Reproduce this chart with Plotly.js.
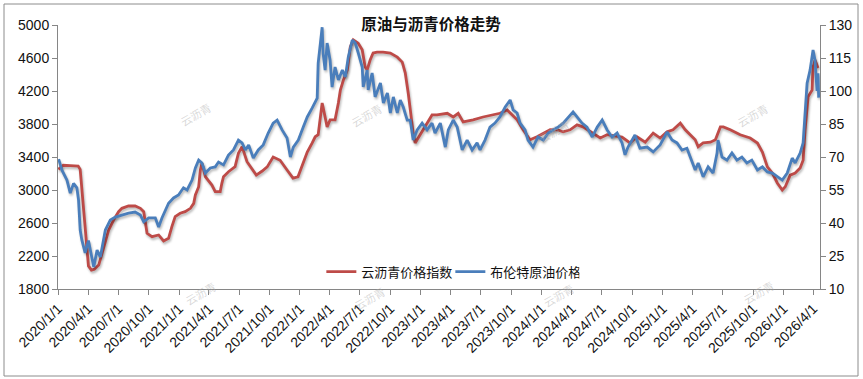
<!DOCTYPE html>
<html>
<head>
<meta charset="utf-8">
<script src="https://cdn.plot.ly/plotly-3.0.1.min.js"></script>
<style>
  html, body { margin: 0; padding: 0; background: #fff; }
  #chart { width: 863px; height: 379px; }
  #chart .scatterlayer path.js-line { filter: drop-shadow(1.5px 2px 1.2px rgba(0,0,0,0.28)); }
</style>
</head>
<body>
<div id="chart"></div>
<script>
// ---- Data ----
const asphaltDates = ["2020-01-02","2020-01-17","2020-02-07","2020-03-02","2020-03-08","2020-03-20","2020-04-02","2020-04-11","2020-04-20","2020-05-03","2020-05-23","2020-06-02","2020-06-17","2020-07-02","2020-07-12","2020-08-01","2020-08-21","2020-09-06","2020-09-16","2020-09-21","2020-09-26","2020-10-11","2020-10-31","2020-11-15","2020-11-30","2020-12-10","2020-12-20","2021-01-04","2021-01-19","2021-02-04","2021-02-14","2021-02-19","2021-03-01","2021-03-06","2021-03-11","2021-03-21","2021-04-10","2021-04-20","2021-05-05","2021-05-10","2021-05-15","2021-05-30","2021-06-19","2021-06-29","2021-07-10","2021-07-25","2021-08-09","2021-08-22","2021-09-09","2021-09-24","2021-10-12","2021-11-02","2021-11-23","2021-12-11","2021-12-26","2022-01-08","2022-01-23","2022-02-07","2022-02-16","2022-02-25","2022-03-09","2022-03-12","2022-03-24","2022-04-02","2022-04-17","2022-04-27","2022-05-03","2022-05-12","2022-05-24","2022-06-02","2022-06-11","2022-06-26","2022-07-08","2022-07-17","2022-07-23","2022-08-01","2022-08-10","2022-08-22","2022-09-09","2022-10-01","2022-10-22","2022-11-06","2022-11-15","2022-11-24","2022-11-30","2022-12-09","2022-12-15","2022-12-30","2023-01-20","2023-02-04","2023-02-19","2023-03-22","2023-04-09","2023-04-24","2023-05-09","2023-06-08","2023-07-08","2023-08-07","2023-08-28","2023-09-19","2023-10-19","2023-11-06","2023-11-27","2023-12-18","2024-01-06","2024-01-27","2024-02-17","2024-03-06","2024-03-27","2024-04-17","2024-05-05","2024-06-05","2024-06-26","2024-07-17","2024-08-16","2024-08-31","2024-09-24","2024-10-15","2024-11-09","2024-12-03","2024-12-24","2025-01-14","2025-02-01","2025-02-23","2025-03-10","2025-03-25","2025-04-09","2025-04-18","2025-05-03","2025-05-25","2025-06-09","2025-06-24","2025-07-03","2025-07-24","2025-08-23","2025-09-22","2025-10-14","2025-10-29","2025-11-13","2025-11-28","2025-12-13","2025-12-28","2026-01-06","2026-01-21","2026-02-05","2026-02-20","2026-03-01","2026-03-07","2026-03-13","2026-03-16","2026-03-28","2026-03-31","2026-04-06","2026-04-15"];
const asphaltIndex = [3250,3300,3295,3290,3250,2700,2080,2030,2040,2090,2358,2515,2636,2737,2778,2806,2806,2778,2737,2616,2475,2434,2455,2382,2415,2556,2677,2718,2737,2778,2838,2940,3040,3243,3324,3162,3060,2980,2980,3081,3162,3222,3283,3445,3526,3343,3250,3180,3230,3280,3400,3360,3243,3145,3160,3300,3460,3570,3645,3670,4055,4000,3765,3850,3850,4055,4210,4330,4455,4735,4820,4780,4700,4490,4455,4575,4660,4670,4670,4660,4610,4550,4420,4175,3970,3690,3570,3670,3810,3910,3910,3930,3885,3930,3825,3850,3885,3910,3930,3970,3850,3730,3610,3645,3690,3730,3730,3705,3730,3790,3765,3690,3630,3670,3645,3640,3570,3645,3580,3690,3630,3705,3730,3810,3730,3670,3610,3525,3570,3580,3610,3765,3765,3730,3670,3630,3570,3460,3280,3205,3085,3000,3040,3180,3205,3267,3360,3730,4000,4130,4210,4490,4575,4480];

const brentDates = ["2020-01-03","2020-01-13","2020-01-28","2020-02-07","2020-02-17","2020-02-27","2020-03-03","2020-03-08","2020-03-13","2020-03-23","2020-04-02","2020-04-13","2020-04-18","2020-04-28","2020-05-08","2020-05-23","2020-06-07","2020-06-22","2020-07-12","2020-08-01","2020-08-21","2020-09-06","2020-09-16","2020-10-01","2020-10-21","2020-10-31","2020-11-10","2020-11-20","2020-11-30","2020-12-15","2020-12-30","2021-01-14","2021-01-25","2021-02-09","2021-02-19","2021-03-01","2021-03-11","2021-03-21","2021-04-05","2021-04-20","2021-04-30","2021-05-15","2021-05-30","2021-06-14","2021-06-29","2021-07-10","2021-07-20","2021-07-30","2021-08-13","2021-08-28","2021-09-12","2021-09-27","2021-10-12","2021-10-24","2021-11-08","2021-11-23","2021-12-03","2021-12-12","2021-12-27","2022-01-11","2022-01-23","2022-02-07","2022-02-22","2022-02-25","2022-03-09","2022-03-12","2022-03-18","2022-03-24","2022-04-02","2022-04-08","2022-04-17","2022-04-27","2022-05-09","2022-05-18","2022-05-27","2022-06-08","2022-06-17","2022-06-26","2022-07-08","2022-07-11","2022-07-23","2022-07-26","2022-08-07","2022-08-16","2022-09-01","2022-09-10","2022-09-22","2022-10-01","2022-10-10","2022-10-22","2022-10-31","2022-11-09","2022-11-21","2022-11-30","2022-12-09","2022-12-21","2023-01-05","2023-01-20","2023-02-04","2023-02-13","2023-03-01","2023-03-16","2023-03-25","2023-04-09","2023-04-21","2023-05-06","2023-05-21","2023-06-05","2023-06-20","2023-06-29","2023-07-14","2023-07-29","2023-08-13","2023-08-28","2023-09-13","2023-09-28","2023-10-07","2023-10-19","2023-10-28","2023-11-12","2023-11-21","2023-12-06","2023-12-21","2024-01-06","2024-01-21","2024-02-05","2024-02-20","2024-03-06","2024-03-21","2024-04-05","2024-04-17","2024-05-02","2024-05-17","2024-06-02","2024-06-17","2024-07-02","2024-07-17","2024-08-01","2024-08-16","2024-08-31","2024-09-09","2024-09-18","2024-10-09","2024-10-24","2024-11-15","2024-12-03","2024-12-24","2025-01-14","2025-01-29","2025-02-13","2025-02-28","2025-03-15","2025-03-25","2025-04-09","2025-04-18","2025-05-03","2025-05-18","2025-06-02","2025-06-14","2025-06-17","2025-06-29","2025-07-14","2025-07-29","2025-08-13","2025-08-28","2025-09-12","2025-09-27","2025-10-14","2025-10-29","2025-11-13","2025-11-28","2025-12-13","2025-12-28","2026-01-12","2026-01-27","2026-02-05","2026-02-20","2026-03-01","2026-03-07","2026-03-13","2026-03-22","2026-03-28","2026-03-31","2026-04-06","2026-04-12","2026-04-15","2026-04-17"];
const brentPrice = [69,64,59.5,53.6,58,56,50.5,36.8,32.3,26.4,32,23.2,20,27.7,24.5,36.8,41.4,42.7,43.6,44.5,45,43.6,40.5,42.3,42.3,38.2,42.3,45.9,49,51.4,52.7,56,55,59.5,65,68.6,67.3,62.7,65,65.5,67.7,66.4,70.9,73.2,77.7,76.4,73.2,75.5,69.5,73.2,75.5,80.9,85.4,86.8,82.3,78.6,70,74.5,77.7,83.6,88.2,92.3,96.8,112.7,129,117,109.5,121.8,114,101.8,110.9,105,109.5,106.4,115.5,123.2,121.8,117.3,110.9,101.8,109.5,100.5,108.2,97.3,103.6,94.5,99.1,90,97.3,90,95.9,92.7,86.8,86.8,77.7,82.3,85.4,82.3,85.4,80.9,85.4,74.5,82.3,86.8,83.6,73.2,77.7,73.2,76.4,73.2,77.7,83.6,85.4,88.2,92.7,95.9,91.4,90,85.4,82.3,77.7,74.5,79.1,77.7,80.9,82.3,83.6,85.4,88.2,90.5,88.2,85.4,83.6,79.1,83.6,86.8,82.3,79.1,80.9,76.4,71,74.5,80,74,74.5,72.3,75.5,81.4,77.7,76.4,73.2,74,70,64.1,67.3,61,65.5,62.7,71.8,77.7,70,68.6,71.8,68.6,70,67.3,68.6,64.1,65.5,63.2,62.7,61,59.5,62.7,69.5,67.3,71.8,76.4,92.7,103.6,109.5,115.5,118.6,114,100,108,97];

const tickDates = ["2020-01-01","2020-04-01","2020-07-01","2020-10-01","2021-01-01","2021-04-01","2021-07-01","2021-10-01","2022-01-01","2022-04-01","2022-07-01","2022-10-01","2023-01-01","2023-04-01","2023-07-01","2023-10-01","2024-01-01","2024-04-01","2024-07-01","2024-10-01","2025-01-01","2025-04-01","2025-07-01","2025-10-01","2026-01-01","2026-04-01"];
const tickLabels = ["2020/1/1","2020/4/1","2020/7/1","2020/10/1","2021/1/1","2021/4/1","2021/7/1","2021/10/1","2022/1/1","2022/4/1","2022/7/1","2022/10/1","2023/1/1","2023/4/1","2023/7/1","2023/10/1","2024/1/1","2024/4/1","2024/7/1","2024/10/1","2025/1/1","2025/4/1","2025/7/1","2025/10/1","2026/1/1","2026/4/1"];

const seriesNames = ["云沥青价格指数", "布伦特原油价格"];
const titleText = "原油与沥青价格走势";
const watermark = "云沥青";

// ---- Chart ----
const CJK = "'Noto Sans CJK SC', 'Noto Sans', sans-serif";
const NUM = "'Liberation Sans', Arial, sans-serif";
const axisGray = "#868686";

const traces = [
  { x: asphaltDates, y: asphaltIndex, name: seriesNames[0], type: "scatter", mode: "lines",
    line: { color: "#BE4B48", width: 2.8 }, yaxis: "y" },
  { x: brentDates, y: brentPrice, name: seriesNames[1], type: "scatter", mode: "lines",
    line: { color: "#4A7EBB", width: 2.8 }, yaxis: "y2" }
];

const wmPos = [[0.1535,0.663],[0.4055,0.659],[0.6785,0.667],[0.9396,0.659],
               [0.160,-0.083],[0.409,-0.102],[0.685,-0.091],[0.9475,-0.080]];
const annotations = wmPos.map(p => ({
  text: watermark, xref: "paper", yref: "paper", x: p[0], y: p[1],
  showarrow: false, textangle: -30,
  font: { family: CJK, size: 11, color: "rgba(170,170,170,0.45)" }
}));

const layout = {
  width: 863, height: 379,
  margin: { l: 58, r: 43, t: 25, b: 90, pad: 0 },
  paper_bgcolor: "#fff", plot_bgcolor: "#fff",
  showlegend: true,
  title: { text: titleText, xref: "container", yref: "container", x: 0.4994, y: 0.935,
           xanchor: "center", yanchor: "middle",
           font: { family: CJK, size: 15.5, color: "#111", weight: "bold" } },
  legend: { orientation: "h", x: 0.3456, y: 0.066, xanchor: "left", yanchor: "middle",
            bgcolor: "rgba(0,0,0,0)", font: { family: CJK, size: 13, color: "#111" },
            itemwidth: 30, tracegroupgap: 0, entrywidth: 84, entrywidthmode: "pixels" },
  xaxis: {
    type: "date", range: ["2020-01-01", "2026-04-21"],
    tickmode: "array", tickvals: tickDates, ticktext: tickLabels, tickangle: -45,
    showgrid: false, zeroline: false, showline: true, linecolor: axisGray, linewidth: 1,
    ticks: "outside", ticklen: 5, tickcolor: axisGray, tickwidth: 1,
    tickfont: { family: NUM, size: 14, color: "#111" }
  },
  yaxis: {
    range: [1800, 5000], dtick: 400, tick0: 1800,
    showgrid: false, zeroline: false, showline: true, linecolor: axisGray, linewidth: 1,
    ticks: "outside", ticklen: 5, tickcolor: axisGray, tickwidth: 1,
    tickfont: { family: NUM, size: 14, color: "#111" }
  },
  yaxis2: {
    range: [10, 130], dtick: 15, tick0: 10, overlaying: "y", side: "right",
    showgrid: false, zeroline: false, showline: true, linecolor: axisGray, linewidth: 1,
    ticks: "outside", ticklen: 5, tickcolor: axisGray, tickwidth: 1,
    tickfont: { family: NUM, size: 14, color: "#111" }
  },
  shapes: [
    { type: "rect", xref: "paper", yref: "paper",
      x0: (4 - 58) / 762, x1: (858 - 58) / 762, y0: (289 - 376) / 264, y1: (289 - 4) / 264,
      line: { color: "#8c8c8c", width: 1 }, fillcolor: "rgba(0,0,0,0)", layer: "below" }
  ],
  annotations: annotations
};

Plotly.newPlot("chart", traces, layout, { staticPlot: true, displayModeBar: false });
</script>
</body>
</html>
